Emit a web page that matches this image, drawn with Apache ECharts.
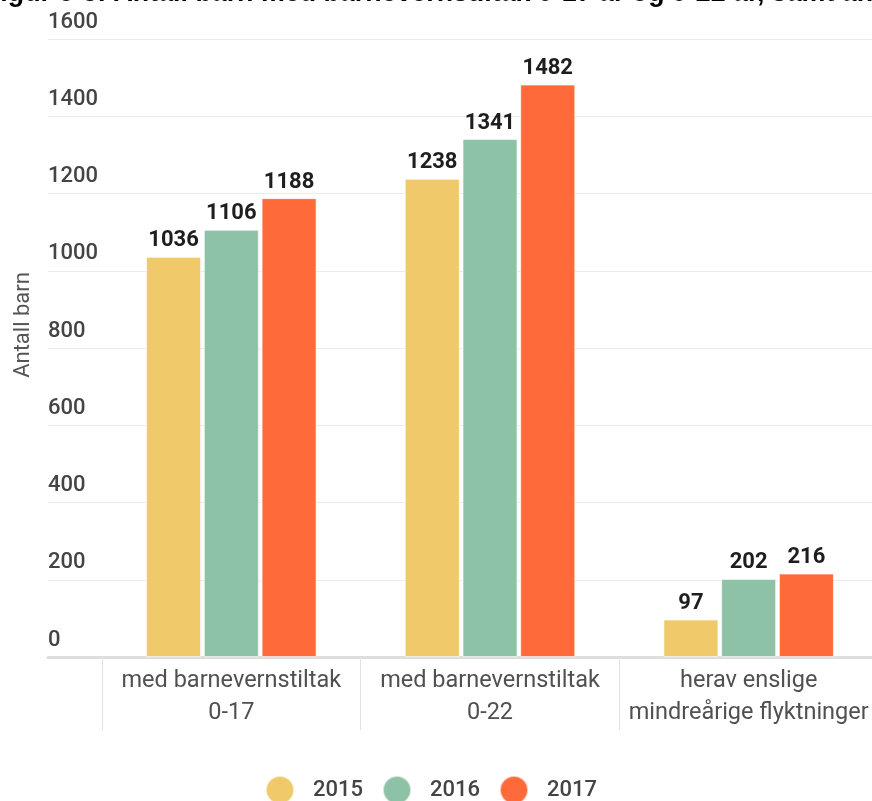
<!DOCTYPE html>
<html>
<head>
<meta charset="utf-8">
<script src="https://cdn.jsdelivr.net/npm/echarts@6/dist/echarts.min.js"></script>
<style>
html,body{margin:0;padding:0;background:#fff;overflow:hidden;}
#chart{width:890px;height:801px;}
</style>
</head>
<body>
<div id="chart"></div>
<script>
const titleText = 'Figur 6-3: Antall barn med barnevernstiltak 0-17 år og 0-22 år, samt antall enslige mindreårige flyktninger';
const categories = ['med barnevernstiltak\n0-17', 'med barnevernstiltak\n0-22', 'herav enslige\nmindreårige flyktninger'];
const seriesNames = ['2015', '2016', '2017'];
const values2015 = [1036, 1238, 97];
const values2016 = [1106, 1341, 202];
const values2017 = [1188, 1482, 216];
const colors = ['#F0C96A', '#8DC2A6', '#FF6A3A'];
const yMin = 0, yMax = 1600, yInterval = 200;

const chart = echarts.init(document.getElementById('chart'), null, {renderer: 'canvas'});
const seriesValues = [values2015, values2016, values2017];

const option = {
  animation: false,
  color: colors,
  graphic: [{
    type: 'text',
    left: -16,
    top: -20,
    style: {
      text: titleText,
      font: 'bold 26.8px "Liberation Sans", Arial, sans-serif',
      fill: '#000'
    }
  }],
  legend: {
    data: seriesNames,
    left: 265,
    top: 775,
    padding: 0,
    icon: 'circle',
    itemWidth: 28,
    itemHeight: 28,
    itemGap: 19,
    textStyle: {
      fontFamily: 'Roboto',
      fontSize: 22,
      fontWeight: 500,
      color: '#444',
      padding: [0, 0, 0, 14]
    }
  },
  grid: [
    {left: 48, right: 0, top: 39, bottom: 144},
    {left: 102, right: 12, top: 39, bottom: 144}
  ],
  xAxis: [
    {
      type: 'category', gridIndex: 0, data: [''],
      axisLine: {show: true, lineStyle: {color: '#dedede', width: 3}},
      axisTick: {show: false}, axisLabel: {show: false}, splitLine: {show: false}
    },
    {
      type: 'category', gridIndex: 1, data: categories,
      axisLine: {show: false},
      axisTick: {show: true, length: 73, lineStyle: {color: '#e3e3e3', width: 1}},
      axisLabel: {
        interval: 0, margin: 8,
        fontFamily: 'Roboto', fontSize: 23.5, lineHeight: 32, color: '#505050'
      }
    }
  ],
  yAxis: [
    {
      type: 'value', gridIndex: 0, min: yMin, max: yMax, interval: yInterval,
      name: 'Antall barn', nameLocation: 'middle', nameGap: 14,
      nameTextStyle: {fontFamily: 'Roboto', fontSize: 22, color: '#555', padding: [0, 0, 0, 46]},
      axisLine: {show: false}, axisTick: {show: false},
      axisLabel: {
        inside: true, margin: 0, align: 'left', verticalAlign: 'bottom',
        padding: [0, 0, 6, 0],
        formatter: v => String(v),
        fontFamily: 'Roboto', fontSize: 22, fontWeight: 500, color: '#444'
      },
      splitLine: {show: true, lineStyle: {color: '#ebebeb', width: 1}}
    },
    {
      type: 'value', gridIndex: 1, min: yMin, max: yMax, interval: yInterval,
      show: false, splitLine: {show: false}
    }
  ],
  series: seriesNames.map((name, i) => ({
    name: name,
    type: 'bar',
    xAxisIndex: 1,
    yAxisIndex: 1,
    data: seriesValues[i],
    barWidth: 55,
    barGap: '5%',
    itemStyle: {color: colors[i], borderColor: 'rgba(255,255,255,0.6)', borderWidth: 1},
    label: {
      show: true, position: 'top', distance: 5,
      fontFamily: 'Roboto', fontSize: 22, fontWeight: 'bold', color: '#1e1e1e'
    }
  }))
};
chart.setOption(option);
</script>
</body>
</html>
